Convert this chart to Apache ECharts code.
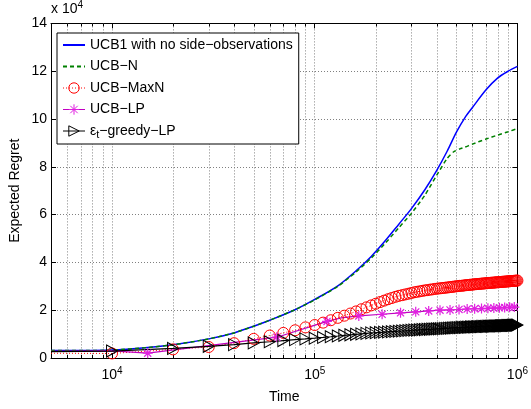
<!DOCTYPE html>
<html><head><meta charset="utf-8">
<script src="https://cdn.jsdelivr.net/npm/echarts@6/dist/echarts.min.js"></script>
<style>html,body{margin:0;padding:0;background:#fff}#c{width:531px;height:409px}</style>
</head><body><div id="c"></div>
<script>
const FONT = 'Liberation Sans, Arial, sans-serif';

// axis ticks
const xTickExp = [4, 5, 6];
const yTicks = [0, 2, 4, 6, 8, 10, 12, 14];
const xMinor = [6000, 7000, 8000, 9000, 20000, 30000, 40000, 50000, 60000, 70000, 80000, 90000,
  200000, 300000, 400000, 500000, 600000, 700000, 800000, 900000];

// UCB1 with no side-observations (values in units of 10^4)
const ucb1T = [5000, 7000, 10000, 15000, 20000, 30000, 40000, 50000, 60000, 80000, 100000, 130000, 160000,
  190000, 220000, 260000, 300000, 350000, 400000, 450000, 500000, 550000, 600000, 700000, 800000, 900000, 1000000];
const ucb1V = [0.31, 0.31, 0.33, 0.44, 0.55, 0.80, 1.05, 1.33, 1.58, 2.02, 2.45, 3.02, 3.65,
  4.25, 4.85, 5.60, 6.25, 7.05, 7.85, 8.65, 9.45, 10.05, 10.48, 11.22, 11.72, 12.0, 12.2];

// UCB-N
const ucbNT = [5000, 7000, 10000, 15000, 20000, 30000, 40000, 50000, 60000, 80000, 100000, 130000, 160000,
  190000, 220000, 260000, 300000, 350000, 400000, 450000, 483000, 520000, 550000, 600000, 700000, 800000, 900000, 1000000];
const ucbNV = [0.31, 0.31, 0.33, 0.44, 0.55, 0.80, 1.05, 1.33, 1.58, 2.02, 2.43, 3.0, 3.6,
  4.18, 4.75, 5.45, 6.05, 6.82, 7.65, 8.35, 8.62, 8.75, 8.82, 8.95, 9.16, 9.33, 9.47, 9.6];

// times for UCB-MaxN and eps-greedy-LP (first point: start of line, no marker)
const markT = [5000,
  10000, 20000, 30000, 40000, 50000, 60000, 70000, 80000, 90000, 100000,
  110000, 120000, 130000, 140000, 150000, 160000, 170000, 180000, 190000, 200000,
  210000, 220000, 230000, 240000, 250000, 260000, 270000, 280000, 290000, 300000,
  310000, 320000, 330000, 340000, 350000, 360000, 370000, 380000, 390000, 400000,
  410000, 420000, 430000, 440000, 450000, 460000, 470000, 480000, 490000, 500000,
  510000, 520000, 530000, 540000, 550000, 560000, 570000, 580000, 590000, 600000,
  610000, 620000, 630000, 640000, 650000, 660000, 670000, 680000, 690000, 700000,
  710000, 720000, 730000, 740000, 750000, 760000, 770000, 780000, 790000, 800000,
  810000, 820000, 830000, 840000, 850000, 860000, 870000, 880000, 890000, 900000,
  910000, 920000, 930000, 940000, 950000, 960000, 970000, 980000, 990000, 1000000];

// UCB-MaxN
const maxNV = [0.20,
  0.19, 0.36, 0.46, 0.62, 0.80, 0.94, 1.05, 1.16, 1.28, 1.38,
  1.48, 1.58, 1.68, 1.77, 1.86, 1.95, 2.04, 2.12, 2.20, 2.27,
  2.34, 2.40, 2.46, 2.51, 2.56, 2.60, 2.63, 2.66, 2.69, 2.72,
  2.75, 2.77, 2.79, 2.81, 2.83, 2.84, 2.86, 2.87, 2.89, 2.90,
  2.91, 2.92, 2.93, 2.94, 2.95, 2.96, 2.97, 2.98, 2.99, 3.00,
  3.01, 3.02, 3.02, 3.03, 3.04, 3.05, 3.05, 3.06, 3.07, 3.07,
  3.08, 3.09, 3.09, 3.10, 3.10, 3.11, 3.11, 3.12, 3.12, 3.13,
  3.13, 3.14, 3.14, 3.15, 3.15, 3.15, 3.16, 3.16, 3.17, 3.17,
  3.17, 3.18, 3.18, 3.19, 3.19, 3.19, 3.20, 3.20, 3.20, 3.21,
  3.21, 3.21, 3.22, 3.22, 3.22, 3.23, 3.23, 3.23, 3.24, 3.24];

// eps_t-greedy-LP
const epsV = [0.27,
  0.29, 0.40, 0.49, 0.56, 0.63, 0.68, 0.73, 0.77, 0.80, 0.83,
  0.86, 0.89, 0.92, 0.95, 0.97, 0.99, 1.01, 1.03, 1.05, 1.06,
  1.07, 1.08, 1.09, 1.10, 1.11, 1.12, 1.13, 1.14, 1.15, 1.16,
  1.17, 1.17, 1.18, 1.19, 1.19, 1.20, 1.20, 1.21, 1.21, 1.22,
  1.22, 1.23, 1.23, 1.24, 1.24, 1.25, 1.25, 1.26, 1.26, 1.27,
  1.27, 1.27, 1.28, 1.28, 1.28, 1.29, 1.29, 1.29, 1.30, 1.30,
  1.30, 1.30, 1.31, 1.31, 1.31, 1.31, 1.32, 1.32, 1.32, 1.32,
  1.32, 1.33, 1.33, 1.33, 1.33, 1.33, 1.34, 1.34, 1.34, 1.34,
  1.34, 1.34, 1.35, 1.35, 1.35, 1.35, 1.35, 1.35, 1.36, 1.36,
  1.36, 1.36, 1.36, 1.36, 1.37, 1.37, 1.37, 1.37, 1.37, 1.38];

// UCB-LP (mark: 1 = star marker drawn)
const lpT = [5000, 10000, 15000, 65000, 115000, 135000, 165000, 215000, 265000, 315000, 365000, 415000,
  465000, 515000, 565000, 615000, 665000, 715000, 765000, 815000, 865000, 915000, 965000, 1000000];
const lpV = [0.28, 0.30, 0.20, 0.87, 1.53, 1.68, 1.76, 1.83, 1.89, 1.93, 1.97, 2.00,
  2.01, 2.03, 2.05, 2.06, 2.07, 2.08, 2.09, 2.10, 2.11, 2.12, 2.13, 2.13];
const lpMark = [0, 0, 1, 1, 1, 0, 1, 1, 1, 1, 1, 1, 1, 1, 1, 1, 1, 1, 1, 1, 1, 1, 1, 0];

const names = ['UCB1 with no side\u2212observations', 'UCB\u2212N', 'UCB\u2212MaxN', 'UCB\u2212LP', '\u03b5t\u2212greedy\u2212LP'];

const Y_MIN = yTicks[0], Y_MAX = yTicks[yTicks.length - 1];
const X_MIN = 5000, X_MAX = Math.pow(10, xTickExp[xTickExp.length - 1]);

const STAR = 'path://M0,-10L0,10M-10,0L10,0M-7.1,-7.1L7.1,7.1M-7.1,7.1L7.1,-7.1';
const TRI = 'path://M0,0L10,5L0,10Z';
const CLEAR = 'rgba(255,255,255,0)';

function zip(t, v) { return t.map((x, i) => [x, v[i]]); }
function withMarks(t, v, flags) {
  return t.map((x, i) => flags[i] ? [x, v[i]] : { value: [x, v[i]], symbol: 'none' });
}
const firstNoMark = markT.map((_, i) => i === 0 ? 0 : 1);

const labelRich = {
  b: { fontFamily: FONT, fontSize: 14, color: '#000' },
  s: { fontFamily: FONT, fontSize: 10, color: '#000', padding: [0, 0, 9, 0] }
};

const chart = echarts.init(document.getElementById('c'), null, { renderer: 'canvas' });

const xBase = {
  type: 'log', logBase: 10, min: X_MIN, max: X_MAX, gridIndex: 0,
  axisLine: { show: true, onZero: false, lineStyle: { color: '#000', width: 1 } },
  axisTick: { show: true, inside: true, length: 5, lineStyle: { color: '#000', width: 1 } },
  minorTick: { show: false }
};
const yBase = {
  type: 'value', min: Y_MIN, max: Y_MAX, interval: 2, gridIndex: 0,
  axisLine: { show: true, onZero: false, lineStyle: { color: '#000', width: 1 } },
  axisTick: { show: true, inside: true, length: 5, lineStyle: { color: '#000', width: 1 } }
};

chart.setOption({
  animation: false,
  backgroundColor: '#fff',
  grid: { left: 45, right: 9, top: 20, bottom: 46, containLabel: false },
  legend: {
    left: 57, top: 33, orient: 'vertical',
    itemWidth: 22, itemHeight: 13, itemGap: 7.5,
    padding: [5, 6, 4, 5],
    borderColor: '#000', borderWidth: 1, backgroundColor: '#fff',
    selectedMode: false,
    data: [
      { name: names[0] },
      { name: names[1] },
      { name: names[2], itemStyle: { color: CLEAR, borderColor: '#ff0000', borderWidth: 1, borderType: 'solid' }, lineStyle: { width: 1 } },
      { name: names[3], itemStyle: { color: CLEAR, borderColor: '#e020e0', borderWidth: 1 }, lineStyle: { width: 1 } },
      { name: names[4], itemStyle: { color: CLEAR, borderColor: '#000', borderWidth: 1 }, lineStyle: { width: 1 } }
    ],
    formatter: function (n) {
      if (n.charAt(0) === '\u03b5') return '{n|\u03b5}{sub|t}{n|\u2212greedy\u2212LP}';
      return '{n|' + n + '}';
    },
    textStyle: {
      fontFamily: FONT, fontSize: 14, color: '#000',
      rich: {
        n: { fontFamily: FONT, fontSize: 14, color: '#000' },
        sub: { fontFamily: FONT, fontSize: 11, color: '#000', padding: [7, 0, 0, 0] }
      }
    }
  },
  xAxis: [
    Object.assign({}, xBase, {
      position: 'bottom',
      axisLabel: {
        margin: 8, color: '#000', fontFamily: FONT, fontSize: 14,
        formatter: function (v) {
          const e = Math.log10(v);
          const r = Math.round(e);
          if (Math.abs(e - r) > 1e-6 || xTickExp.indexOf(r) < 0) return '';
          return '{b|10}{s|' + r + '}';
        },
        rich: labelRich
      },
      splitLine: { show: true, lineStyle: { color: '#808080', width: 1, type: [1, 2] } },
      name: 'Time', nameLocation: 'middle', nameGap: 32,
      nameTextStyle: { fontFamily: FONT, fontSize: 14, color: '#000' }
    }),
    Object.assign({}, xBase, {
      position: 'top', axisLabel: { show: false }, splitLine: { show: false }
    })
  ],
  yAxis: [
    Object.assign({}, yBase, {
      position: 'left',
      axisLabel: { margin: 4, color: '#000', fontFamily: FONT, fontSize: 14 },
      splitLine: { show: true, lineStyle: { color: '#808080', width: 1, type: [1, 2] } },
      name: '{a|x 10}{s|4}', nameLocation: 'end', nameGap: 6,
      nameTextStyle: {
        align: 'left', verticalAlign: 'middle', fontFamily: FONT, fontSize: 14, color: '#000',
        rich: { a: { fontFamily: FONT, fontSize: 14, color: '#000' }, s: { fontFamily: FONT, fontSize: 10, color: '#000', padding: [0, 0, 9, 0] } }
      }
    }),
    Object.assign({}, yBase, {
      position: 'right', axisLabel: { show: false }, splitLine: { show: false }
    }),
    Object.assign({}, yBase, {
      position: 'left', axisLine: { show: false }, axisTick: { show: false },
      axisLabel: { show: false }, splitLine: { show: false },
      name: 'Expected Regret', nameLocation: 'middle', nameGap: 29,
      nameTextStyle: { fontFamily: FONT, fontSize: 14, color: '#000' }
    })
  ],
  series: [
    {
      type: 'custom', name: 'minorGrid', silent: true, coordinateSystem: 'cartesian2d',
      xAxisIndex: 0, yAxisIndex: 0, z: 1,
      data: xMinor.map(v => [v, Y_MIN]),
      encode: { x: 0, y: 1 },
      renderItem: function (params, api) {
        const t = api.value(0);
        const b = api.coord([t, Y_MIN]);
        const tp = api.coord([t, Y_MAX]);
        const x = Math.round(b[0]) + 0.5;
        return {
          type: 'group', children: [
            { type: 'line', shape: { x1: x, y1: tp[1], x2: x, y2: b[1] }, style: { stroke: '#808080', lineWidth: 1, lineDash: [1, 2] } },
            { type: 'line', shape: { x1: x, y1: b[1], x2: x, y2: b[1] - 3 }, style: { stroke: '#000', lineWidth: 1 } },
            { type: 'line', shape: { x1: x, y1: tp[1], x2: x, y2: tp[1] + 3 }, style: { stroke: '#000', lineWidth: 1 } }
          ]
        };
      }
    },
    {
      type: 'line', name: names[0], data: zip(ucb1T, ucb1V), symbol: 'circle', showSymbol: false, smooth: 0.3,
      lineStyle: { color: '#0000ff', width: 1.5 }, itemStyle: { color: CLEAR, borderWidth: 0 }, z: 3
    },
    {
      type: 'line', name: names[1], data: zip(ucbNT, ucbNV), symbol: 'circle', showSymbol: false, smooth: 0.2,
      lineStyle: { color: '#008000', width: 1.5, type: [4, 3] }, itemStyle: { color: CLEAR, borderWidth: 0 }, z: 3
    },
    {
      type: 'line', name: names[2], data: withMarks(markT, maxNV, firstNoMark),
      symbol: 'circle', symbolSize: 11, showAllSymbol: true,
      lineStyle: { color: '#ff0000', width: 1, type: [1, 2] },
      itemStyle: { color: CLEAR, borderColor: '#ff0000', borderWidth: 1, borderType: 'solid' }, z: 3
    },
    {
      type: 'line', name: names[3], data: withMarks(lpT, lpV, lpMark),
      symbol: STAR, symbolSize: 10, showAllSymbol: true,
      lineStyle: { color: '#c000c0', width: 1.2 },
      itemStyle: { color: CLEAR, borderColor: '#e020e0', borderWidth: 1.2 }, z: 3
    },
    {
      type: 'line', name: names[4], data: withMarks(markT, epsV, firstNoMark),
      symbol: TRI, symbolSize: [11, 12], showAllSymbol: true,
      lineStyle: { color: '#000', width: 1.2 },
      itemStyle: { color: CLEAR, borderColor: '#000', borderWidth: 1 }, z: 3
    }
  ]
});
</script>
</body></html>
